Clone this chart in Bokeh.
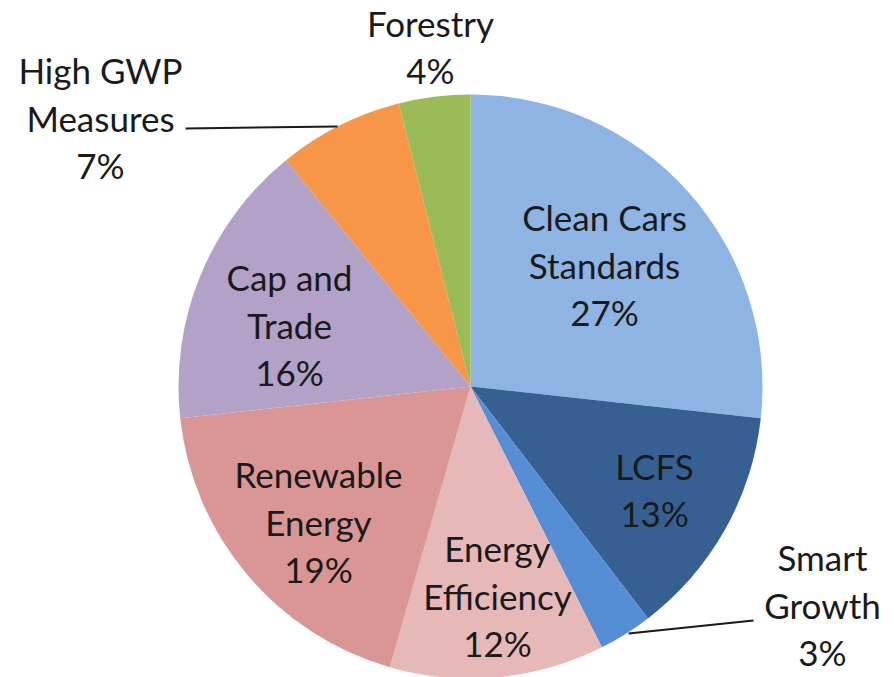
import math
from bokeh.plotting import figure
from bokeh.models import Range1d, ColumnDataSource
from bokeh.core.properties import value
from bokeh.embed import file_html
from bokeh.resources import INLINE

categories = ["Clean Cars\nStandards", "LCFS", "Smart\nGrowth", "Energy\nEfficiency",
              "Renewable\nEnergy", "Cap and\nTrade", "High GWP\nMeasures", "Forestry"]
shares = [27, 13, 3, 12, 19, 16, 7, 4]
colors = ["#8EB4E3", "#376092", "#558ED5", "#E6B9B8", "#D99694", "#B3A2C7", "#F79646", "#9BBB59"]

# layout (pixel-like coordinates of the reference picture, y down)
W, H = 894, 677
CX, CY, R = 470, 386, 292
label_xy = [(604, 264), (654, 489), (822, 604), (497, 595),
            (318, 521), (289, 324), (100, 117), (430, 46)]
LINE_H = 47.5
leaders = [None, None, ((628, 633), (753, 620)), None, None, None,
           ((185, 128), (337, 126)), None]

p = figure(width=W, height=H, output_backend="svg", toolbar_location=None,
           x_range=Range1d(0, W), y_range=Range1d(-H, 0),
           min_border=0)
p.axis.visible = False
p.grid.visible = False
p.outline_line_color = None
p.background_fill_color = "white"
p.border_fill_color = "white"

total = sum(shares)
starts, ends = [], []
cum = 0.0
for v in shares:
    t1 = cum / total * 2 * math.pi
    cum += v
    t2 = cum / total * 2 * math.pi
    starts.append(math.pi / 2 - t2)
    ends.append(math.pi / 2 - t1)

src = ColumnDataSource(dict(x=[CX] * len(shares), y=[-CY] * len(shares),
                            start=starts, end=ends, color=colors))
p.wedge(x="x", y="y", radius=R, start_angle="start", end_angle="end",
        fill_color="color", line_color=None, source=src)

for lead in leaders:
    if lead:
        (x0, y0), (x1, y1) = lead
        p.line([x0, x1], [-y0, -y1], line_color="#1a1a1a", line_width=2)

tx, ty, tt = [], [], []
for cat, v, (lx, ly) in zip(categories, shares, label_xy):
    lines = cat.split("\n") + [f"{v}%"]
    n = len(lines)
    for i, s in enumerate(lines):
        tx.append(lx)
        ty.append(-(ly + (i - (n - 1) / 2) * LINE_H))
        tt.append(s)

p.text(x=tx, y=ty, text=tt, text_align="center", text_baseline="middle",
       text_font=value("Lato"), text_font_size="35px", text_color="#1a1a1a")

open("out.html", "w").write(file_html(p, INLINE))
